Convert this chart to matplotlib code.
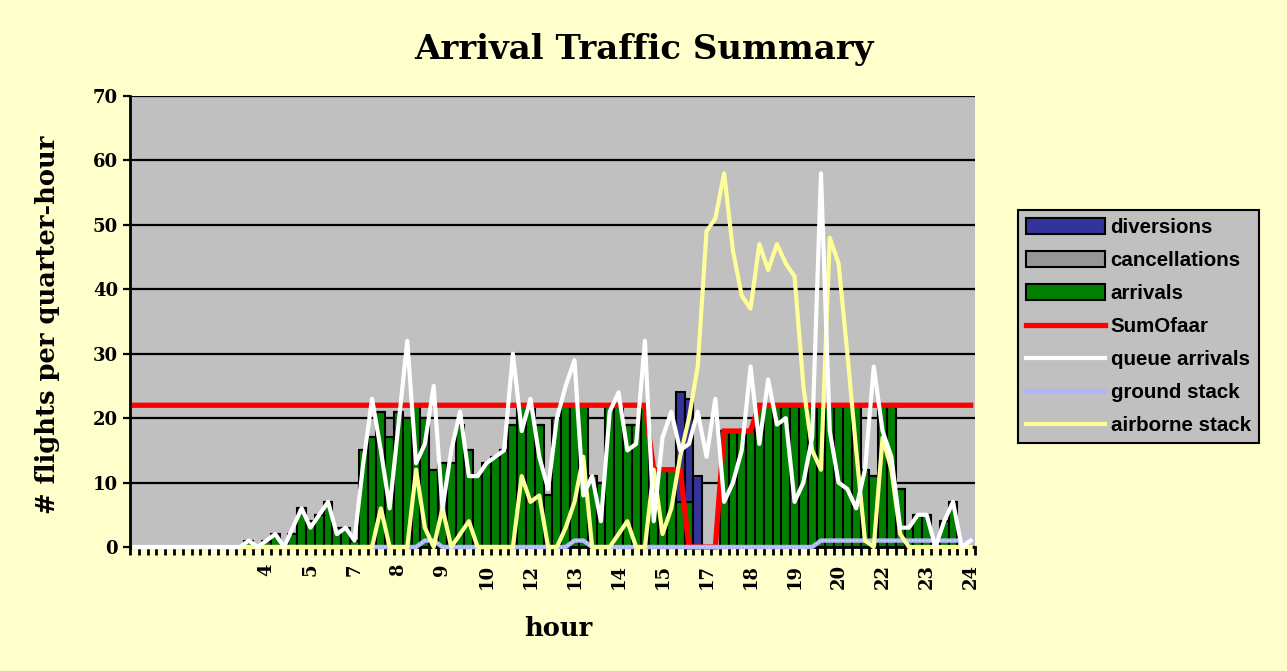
import matplotlib.pyplot as plt
from matplotlib.patches import Patch
from matplotlib.lines import Line2D
import numpy as np

# one value per quarter-hour (96 slots)
arrivals = [0] * 13 + [1, 0, 1, 2, 0, 2, 6, 4, 5, 7, 3, 3, 1, 15, 17, 21, 17, 21, 20, 22,
                       20, 12, 13, 13, 19, 15, 11, 13, 14, 15, 19, 22, 22, 19, 8, 20, 22, 22,
                       22, 11, 10, 22, 22, 19, 19, 22, 12, 12, 12, 7, 7, 0, 0, 0, 18, 18, 18,
                       18] + [22] * 12 + [12, 11, 22, 22, 9, 3, 5, 5, 0, 4, 7, 0, 0]
cancellations = [0] * 96
cancellations[29] = 3
diversions = [0] * 96
diversions[62] = 17
diversions[63] = 16
diversions[64] = 11

sum_of_aar = [22] * 59 + [12, 12, 12, 12, 0, 0, 0, 0, 18, 18, 18, 18] + [22] * 25

queue_arrivals = [0] * 13 + [1, 0, 1, 2, 0, 3, 6, 3, 5, 7, 2, 3, 1, 13, 23, 15, 6, 19, 32, 13,
                             16, 25, 6, 15, 21, 11, 11, 13, 14, 15, 30, 18, 23, 14, 9, 20, 25,
                             29, 8, 11, 4, 21, 24, 15, 16, 32, 4, 17, 21, 15, 16, 21, 14, 23, 7,
                             10, 15, 28, 16, 26, 19, 20, 7, 10, 17, 58, 18, 10, 9, 6, 12, 28,
                             18, 14, 3, 3, 5, 5, 0, 4, 7, 0, 1]

ground_stack = [0] * 96
for i in [33, 34, 50, 51] + list(range(78, 96)):
    ground_stack[i] = 1

airborne_stack = [0] * 28 + [6, 0, 0, 0, 12, 3, 0, 6, 0, 2, 4, 0, 0, 0, 0, 0, 11, 7, 8, 0, 0,
                             3, 7, 14, 0, 0, 0, 2, 4, 0, 0, 12, 2, 6, 14, 20, 28, 49, 51, 58,
                             46, 39, 37, 47, 43, 47, 44, 42, 25, 15, 12, 48, 44, 30, 15, 1, 0,
                             17, 12, 2] + [0] * 8

tick_pos = list(range(15, 96, 5))
tick_labels = ['4', '5', '7', '8', '9', '10', '12', '13', '14', '15', '17', '18', '19',
               '20', '22', '23', '24']

bg = '#FFFFCC'
plot_bg = '#C0C0C0'
c_arr = '#008000'
c_can = '#969696'
c_div = '#333399'
c_ground = '#AEB6F5'
c_air = '#FFFF99'
serif = 'DejaVu Serif'

fig = plt.figure(figsize=(12.87, 6.71), dpi=100, facecolor=bg)
ax = fig.add_axes([130 / 1287, 1 - 547 / 671, 845 / 1287, 451 / 671])
ax.set_facecolor(plot_bg)

x = np.arange(96)
arr = np.array(arrivals)
can = np.array(cancellations)
div = np.array(diversions)

ax.yaxis.grid(True, color='black', linewidth=1.6)
ax.set_axisbelow(True)

bar_kw = dict(width=1.0, edgecolor='black', linewidth=1.5, zorder=2)
ax.bar(x, arr, color=c_arr, **bar_kw)
ax.bar(x, can, bottom=arr, color=c_can, **bar_kw)
ax.bar(x, div, bottom=arr + can, color=c_div, **bar_kw)

ax.plot(x, sum_of_aar, color='#FF0000', linewidth=3.8, zorder=3, solid_joinstyle='miter',
        clip_on=False)
ax.plot(x, ground_stack, color=c_ground, linewidth=3.2, zorder=4, clip_on=False)
ax.plot(x, ground_stack, color='#D8DCFF', linewidth=1, linestyle=(0, (1, 1.5)), zorder=4,
        clip_on=False)
ax.plot(x, airborne_stack, color=c_air, linewidth=3, zorder=5, clip_on=False)
ax.plot(x, queue_arrivals, color='white', linewidth=3, zorder=6, clip_on=False)

ax.set_xlim(-0.5, 95.5)
ax.set_ylim(0, 70)
ax.set_yticks(range(0, 71, 10))
ax.set_xticks(tick_pos)
ax.set_xticklabels(tick_labels, rotation=90, fontfamily=serif, fontweight='bold',
                   fontsize=13, va='top', ha='center')
ax.set_xticks(np.arange(-0.5, 96, 1), minor=True)
ax.tick_params(axis='x', which='major', length=0, pad=12)
ax.tick_params(axis='x', which='minor', length=6, width=2, color='black')
ax.tick_params(axis='y', length=5, width=1.6, labelsize=13)
for lab in ax.get_yticklabels():
    lab.set_fontfamily(serif)
    lab.set_fontweight('bold')

for s in ['top', 'right']:
    ax.spines[s].set_visible(False)
ax.spines['left'].set_linewidth(2)
ax.spines['bottom'].set_linewidth(2)

fig.text(0.5, 1 - 50 / 671, 'Arrival Traffic Summary', ha='center', va='center',
         fontfamily=serif, fontweight='bold', fontsize=24.5)
fig.text(48 / 1287, 1 - 325 / 671, '# flights per quarter-hour', rotation=90,
         ha='center', va='center', fontfamily=serif, fontweight='bold', fontsize=18.5)
fig.text(558 / 1287, 1 - 628 / 671, 'hour', ha='center', va='center',
         fontfamily=serif, fontweight='bold', fontsize=18.5)

handles = [
    Patch(facecolor=c_div, edgecolor='black', linewidth=1.5),
    Patch(facecolor=c_can, edgecolor='black', linewidth=1.5),
    Patch(facecolor=c_arr, edgecolor='black', linewidth=1.5),
    Line2D([], [], color='#FF0000', linewidth=3.8),
    Line2D([], [], color='white', linewidth=3),
    Line2D([], [], color=c_ground, linewidth=3.2),
    Line2D([], [], color=c_air, linewidth=3),
]
labels = ['diversions', 'cancellations', 'arrivals', 'SumOfaar', 'queue arrivals',
          'ground stack', 'airborne stack']
leg = fig.legend(handles, labels, loc='upper left', bbox_to_anchor=(1018 / 1287, 1 - 210 / 671),
                 prop={'family': 'Liberation Sans', 'weight': 'bold', 'size': 14.8},
                 frameon=True, fancybox=False, edgecolor='black', facecolor=plot_bg,
                 framealpha=1, handlelength=3.85, handleheight=0.8, labelspacing=0.68,
                 handletextpad=0.25, borderpad=0.4, borderaxespad=0)
leg.get_frame().set_linewidth(1.5)

fig.savefig('out.png', dpi=100, facecolor=bg)
